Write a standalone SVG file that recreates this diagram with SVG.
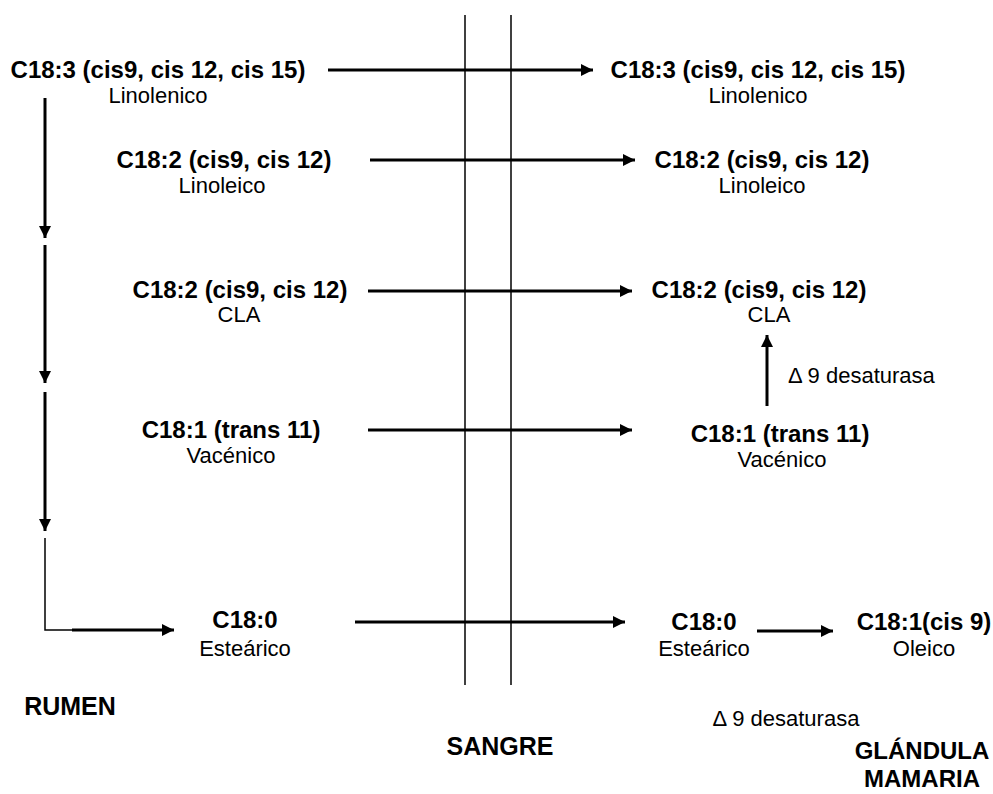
<svg xmlns="http://www.w3.org/2000/svg" width="993" height="794" viewBox="0 0 993 794">
<defs>
<style>
.t{font-family:"Liberation Sans",Arial,sans-serif;font-size:24px;font-weight:bold;fill:#000;text-anchor:middle}
.s{font-family:"Liberation Sans",Arial,sans-serif;font-size:22px;fill:#000;text-anchor:middle}
.l{font-family:"Liberation Sans",Arial,sans-serif;font-size:25px;font-weight:bold;fill:#000;text-anchor:middle}
.a{stroke:#000;stroke-width:3;fill:none}
.thin{stroke:#000;stroke-width:1.5;fill:none}
</style>
<marker id="ah" markerWidth="12" markerHeight="12" viewBox="0 0 12 12" refX="12" refY="6" orient="auto" markerUnits="userSpaceOnUse">
<path d="M0,0 L12,6 L0,12 Z" fill="#000"/>
</marker>
</defs>
<rect width="993" height="794" fill="#fff"/>
<g id="connectors">
<line class="thin" x1="465" y1="15" x2="465" y2="685"/>
<line class="thin" x1="511" y1="15" x2="511" y2="685"/>
<line class="a" x1="328" y1="70" x2="593" y2="70" marker-end="url(#ah)"/>
<line class="a" x1="370" y1="160" x2="635" y2="160" marker-end="url(#ah)"/>
<line class="a" x1="368" y1="291" x2="632" y2="291" marker-end="url(#ah)"/>
<line class="a" x1="368" y1="430" x2="632" y2="430" marker-end="url(#ah)"/>
<line class="a" x1="355" y1="622" x2="625" y2="622" marker-end="url(#ah)"/>
<line class="a" x1="757" y1="631" x2="833" y2="631" marker-end="url(#ah)"/>
<line class="a" x1="767" y1="406" x2="767" y2="335" marker-end="url(#ah)"/>
<line class="a" x1="45" y1="98" x2="45" y2="238" marker-end="url(#ah)"/>
<line class="a" x1="45" y1="245" x2="45" y2="383" marker-end="url(#ah)"/>
<line class="a" x1="45" y1="392" x2="45" y2="531" marker-end="url(#ah)"/>
<polyline class="thin" points="45,538 45,630 72,630"/>
<line class="a" x1="72" y1="630" x2="174" y2="630" marker-end="url(#ah)"/>
</g>
<g id="l18_3"><text class="t" x="158" y="78">C18:3 (cis9, cis 12, cis 15)</text><text class="s" x="158" y="103">Linolenico</text></g>
<g id="l18_2a"><text class="t" x="224" y="168">C18:2 (cis9, cis 12)</text><text class="s" x="222" y="193">Linoleico</text></g>
<g id="l18_2b"><text class="t" x="240" y="298">C18:2 (cis9, cis 12)</text><text class="s" x="239" y="322">CLA</text></g>
<g id="l18_1"><text class="t" x="231" y="438">C18:1 (trans 11)</text><text class="s" x="231" y="463">Vacénico</text></g>
<g id="l18_0"><text class="t" x="245" y="628">C18:0</text><text class="s" x="245" y="656">Esteárico</text></g>
<g id="r18_3"><text class="t" x="758" y="78">C18:3 (cis9, cis 12, cis 15)</text><text class="s" x="758" y="103">Linolenico</text></g>
<g id="r18_2a"><text class="t" x="762" y="168">C18:2 (cis9, cis 12)</text><text class="s" x="762" y="193">Linoleico</text></g>
<g id="r18_2b"><text class="t" x="759" y="298">C18:2 (cis9, cis 12)</text><text class="s" x="769" y="322">CLA</text></g>
<g id="des1"><text class="s" x="788" y="383" style="text-anchor:start">Δ 9 desaturasa</text></g>
<g id="r18_1"><text class="t" x="780" y="442">C18:1 (trans 11)</text><text class="s" x="782" y="467">Vacénico</text></g>
<g id="r18_0"><text class="t" x="704" y="630">C18:0</text><text class="s" x="704" y="656">Esteárico</text></g>
<g id="oleico"><text class="t" x="924" y="630">C18:1(cis 9)</text><text class="s" x="924" y="656">Oleico</text></g>
<g id="des2"><text class="s" x="786" y="726">Δ 9 desaturasa</text></g>
<g id="rumen"><text class="l" x="70" y="715">RUMEN</text></g>
<g id="sangre"><text class="l" x="500" y="755">SANGRE</text></g>
<g id="glandula"><text class="l" x="922" y="759" style="font-size:24px">GLÁNDULA</text><text class="l" x="922" y="787" style="font-size:24px">MAMARIA</text></g>
</svg>
